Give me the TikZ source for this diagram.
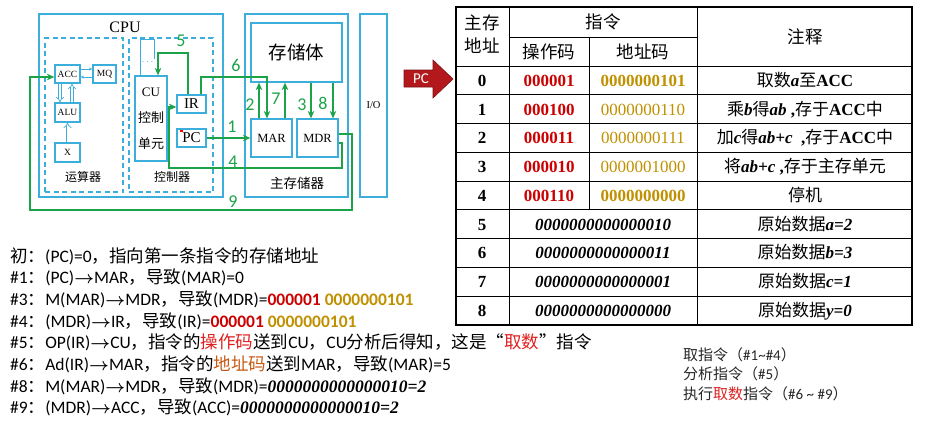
\documentclass[tikz,border=0pt]{standalone}
\usepackage{fontspec}
\usepackage{xcolor}
\usepackage{tikz}
\usetikzlibrary{arrows.meta, positioning}
\setmainfont{Carlito}
\newfontfamily\zhfont{Noto Sans CJK SC}
\newfontfamily\tmsfont{Liberation Serif}
\newcommand{\zh}[1]{{\zhfont\mdseries #1}}
\newcommand{\bi}[1]{{\tmsfont\bfseries\itshape #1}}
\newcommand{\opc}[1]{\textcolor{codered}{\textbf{#1}}}
\newcommand{\adc}[1]{\textcolor{codegold}{\textbf{#1}}}
\newcommand{\ra}{{\boldmath$\rightarrow$}}
\definecolor{boxcyan}{RGB}{60,174,220}
\definecolor{flowgreen}{RGB}{28,162,72}
\definecolor{codered}{RGB}{204,0,0}
\definecolor{codegold}{RGB}{191,144,0}
\definecolor{textred}{RGB}{224,32,32}
\definecolor{addrbrown}{RGB}{197,90,17}
\definecolor{pcred}{RGB}{178,24,28}
\tikzset{
  frame/.style={draw=boxcyan, line width=1.5pt, inner sep=0pt},
  zone/.style={draw=boxcyan, line width=1.1pt, dash pattern=on 5pt off 3.5pt, inner sep=0pt},
  unit/.style={draw=boxcyan, line width=1.2pt, inner sep=0pt, font=\tmsfont\fontsize{9.5}{10}\selectfont},
  zhlbl/.style={inner sep=0pt, font=\zhfont\fontsize{12}{12}\selectfont},
  wire/.style={draw=boxcyan, line width=0.8pt, -{Stealth[length=3.5pt, width=3pt]}},
  hollow/.style={draw=boxcyan, line width=0.7pt, double=white, double distance=2pt, -{Implies}},
  flow/.style={draw=flowgreen, line width=2.4pt, -{Stealth[length=7.5pt, width=6.5pt]}},
  flowno/.style={text=flowgreen, inner sep=0pt, font=\fontsize{18}{18}\selectfont},
  grid/.style={line width=1pt},
  hdr/.style={inner sep=0pt, font=\zhfont\fontsize{17.5}{23}\selectfont},
  cell/.style={anchor=base, inner sep=0pt, font=\tmsfont\bfseries\fontsize{17}{17}\selectfont},
  noteline/.style={anchor=base west, inner sep=0pt, font=\fontsize{17.5}{17.5}\selectfont},
  remark/.style={anchor=base west, inner sep=0pt, text=black!85, font=\fontsize{15}{15}\selectfont}
}
\begin{document}
\begin{tikzpicture}[x=1pt, y=-1pt]
\useasboundingbox (0,0) rectangle (927,423);
% 主机框图
\node[frame, minimum width=184, minimum height=183] (cpu) at (131,105.5) {};
\node[inner sep=0pt, font=\tmsfont\fontsize{16}{16}\selectfont] (cpulbl) at (125,27) {CPU};
\node[zone, minimum width=78, minimum height=154] (alz) at (84,115) {};
\node[zone, minimum width=84, minimum height=154] (ctz) at (171,115) {};
\node[unit, minimum width=25, minimum height=18] (acc) at (67.5,74) {ACC};
\node[unit, minimum width=23, minimum height=18] (mq) at (104.5,74) {MQ};
\node[unit, minimum width=25, minimum height=19] (alu) at (67.5,112.5) {ALU};
\node[unit, minimum width=25, minimum height=19] (xreg) at (67.5,152.5) {X};
\node[zhlbl] (alzlbl) at (83,177) {运算器};
\node[zhlbl] (ctzlbl) at (172,177) {控制器};
\node[unit, minimum width=32, minimum height=85, align=center,
  font=\tmsfont\fontsize{13}{26}\selectfont] (cu) at (151,118.5) {CU\\\zh{控制}\\\zh{单元}};
\node[unit, minimum width=29, minimum height=18, font=\tmsfont\fontsize{15}{15}\selectfont] (ir) at (191.5,104) {IR};
\node[unit, minimum width=29, minimum height=18, font=\tmsfont\fontsize{15}{15}\selectfont] (pc) at (191.5,138) {PC};
\fill[red] (180,130) rectangle (182.5,132);
\node[frame, minimum width=103, minimum height=183] (mem) at (296.5,105.5) {};
\node[unit, minimum width=91, minimum height=59, font=\zhfont\fontsize{18.5}{18.5}\selectfont] (bank) at (296.5,52.5) {存储体};
\node[unit, minimum width=41, minimum height=38, font=\tmsfont\fontsize{12.5}{12.5}\selectfont] (mar) at (271.5,138) {MAR};
\node[unit, minimum width=41, minimum height=38, font=\tmsfont\fontsize{12.5}{12.5}\selectfont] (mdr) at (317.5,138) {MDR};
\node[zhlbl, font=\zhfont\fontsize{13.5}{13.5}\selectfont] (memlbl) at (297,183) {主存储器};
\node[frame, minimum width=27, minimum height=183, font=\tmsfont\fontsize{10.5}{10.5}\selectfont] (io) at (373.5,105.5) {I/O};
% 运算器内部
\draw[wire] ([yshift=5pt]acc.east) -- ([yshift=5pt]mq.west);
\draw[wire] ([yshift=-3pt]mq.west) -- ([yshift=-3pt]acc.east);
\draw[hollow] ([xshift=-7.5pt]acc.south) -- ([xshift=-7.5pt]alu.north);
\draw[hollow] ([xshift=4.5pt]alu.north) -- ([xshift=4.5pt]acc.south);
\draw[hollow] (xreg.north) -- (alu.south);
% CU 上方的控制线
\coordinate (ct1) at (140,39);
\coordinate (ct2) at (154,39);
\coordinate (ce2) at (154,59);
\draw[draw=boxcyan, line width=1pt] (cu.north -| ct1) -- (ct1) -- (ct2) -- (ce2);
\node[inner sep=0pt, text=boxcyan, font=\fontsize{10}{10}\selectfont] (dots) at (147.5,62) {$\cdots$};
% 取指、分析、执行的数据通路
\coordinate (x2) at (259,0);
\coordinate (x7) at (285,0);
\coordinate (x3) at (311,0);
\coordinate (x8) at (333,0);
\coordinate (c5) at (188,53);
\coordinate (d5) at (158,53);
\coordinate (c6) at (201,77);
\coordinate (d6) at (267,77);
\coordinate (r4) at (342,168);
\coordinate (l4) at (169,168);
\coordinate (r9) at (352,210);
\coordinate (l9) at (30,210);
\draw[flow] (pc.east) -- (mar.west);
\draw[flow] (mar.north -| x2) -- (bank.south -| x2);
\draw[flow] (bank.south -| x3) -- (mdr.north -| x3);
\draw[flow] ([yshift=-5pt]mdr.east) -| (r4) -- (l4) |- ([yshift=-3pt]ir.west);
\draw[flow] (ir.north -| c5) -- (c5) -- (d5) -- (cu.north -| d5);
\draw[flow] (ir.north -| c6) -- (c6) -- (d6) -- (mar.north -| d6);
\draw[flow] (mar.north -| x7) -- (bank.south -| x7);
\draw[flow] (bank.south -| x8) -- (mdr.north -| x8);
\draw[flow] ([yshift=4pt]mdr.east) -| (r9) -- (l9) |- ([yshift=-3pt]acc.west);
\node[flowno] (n1) at (232,127) {1};
\node[flowno] (n2) at (250,105) {2};
\node[flowno] (n3) at (302,105) {3};
\node[flowno] (n4) at (233,162) {4};
\node[flowno] (n5) at (181,41) {5};
\node[flowno] (n6) at (236,65) {6};
\node[flowno] (n7) at (276,99) {7};
\node[flowno] (n8) at (323,103) {8};
\node[flowno] (n9) at (233,202) {9};
% PC 指针
\fill[pcred, draw=pcred!70!black, line width=0.6pt] (404,70) -- (433,70) -- (433,60) -- (453,79) -- (433,98) -- (433,87) -- (404,87) -- cycle;
\node[inner sep=0pt, text=white, font=\fontsize{15}{15}\selectfont] (pcptr) at (421,79) {PC};
% 主存表格
\draw[line width=2pt] (456,7) rectangle (912,324.75);
\foreach \i in {0,...,8} \draw[grid] (456,66+28.75*\i) -- (912,66+28.75*\i);
\draw[grid] (509,37) -- (697,37);
\draw[grid] (509,7) -- (509,324.75);
\draw[grid] (697,7) -- (697,324.75);
\draw[grid] (589,37) -- (589,209.75);
\node[hdr, align=center] (hadr) at (482,34.5) {主存\\地址};
\node[hdr] (hins) at (603,22) {指令};
\node[hdr] (hop) at (549,52) {操作码};
\node[hdr] (had) at (643,52) {地址码};
\node[hdr] (hcm) at (805,37) {注释};
\foreach \op/\ad/\note [count=\row from 0] in {
  000001/0000000101/{\zh{取数}\bi{a}\zh{至}ACC},
  000100/{\mdseries 0000000110}/{\zh{乘}\bi{b}\zh{得}\bi{ab} ,\zh{存于}ACC\zh{中}},
  000011/{\mdseries 0000000111}/{\zh{加}\bi{c}\zh{得}\bi{ab+c}\ \ ,\zh{存于}ACC\zh{中}},
  000010/{\mdseries 0000001000}/{\zh{将}\bi{ab+c} ,\zh{存于主存单元}},
  000110/0000000000/{\zh{停机}}}{
  \node[cell] (a\row) at (482,86.4+28.75*\row) {\row};
  \node[cell, text=codered] (op\row) at (549,86.4+28.75*\row) {\op};
  \node[cell, text=codegold] (ad\row) at (643,86.4+28.75*\row) {\ad};
  \node[cell] (cm\row) at (805,86.4+28.75*\row) {\note};
}
\foreach \val/\note [count=\row from 5] in {
  0000000000000010/{\zh{原始数据}\bi{a=2}},
  0000000000000011/{\zh{原始数据}\bi{b=3}},
  0000000000000001/{\zh{原始数据}\bi{c=1}},
  0000000000000000/{\zh{原始数据}\bi{y=0}}}{
  \node[cell] (a\row) at (482,86.4+28.75*\row) {\row};
  \node[cell] (dv\row) at (603,86.4+28.75*\row) {\bi{\val}};
  \node[cell] (cm\row) at (805,86.4+28.75*\row) {\note};
}
% 指令执行过程
\foreach \line [count=\k from 0] in {
  {\zh{初：}(PC)=0\zh{，指向第一条指令的存储地址}},
  {\#1\zh{：}(PC)\ra MAR\zh{，导致}(MAR)=0},
  {\#3\zh{：}M(MAR)\ra MDR\zh{，导致}(MDR)=\opc{000001} \adc{0000000101}},
  {\#4\zh{：}(MDR)\ra IR\zh{，导致}(IR)=\opc{000001} \adc{0000000101}},
  {\#5\zh{：}OP(IR)\ra CU\zh{，指令的\textcolor{textred}{操作码}送到}CU\zh{，}CU\zh{分析后得知，这是“\textcolor{textred}{取数}”指令}},
  {\#6\zh{：}Ad(IR)\ra MAR\zh{，指令的\textcolor{addrbrown}{地址码}送到}MAR\zh{，导致}(MAR)=5},
  {\#8\zh{：}M(MAR)\ra MDR\zh{，导致}(MDR)=\bi{0000000000000010=2}},
  {\#9\zh{：}(MDR)\ra ACC\zh{，导致}(ACC)=\bi{0000000000000010=2}}}{
  \node[noteline] (s\k) at (10,262+21.7*\k) {\line};
}
\node[remark] (p1) at (683,360) {\zh{取指令（}\#1\textasciitilde\#4\zh{）}};
\node[remark] (p2) at (683,379.5) {\zh{分析指令（}\#5\zh{）}};
\node[remark] (p3) at (683,399) {\zh{执行\textcolor{textred}{取数}指令（}\#6 \textasciitilde{} \#9\zh{）}};
\end{tikzpicture}
\end{document}
